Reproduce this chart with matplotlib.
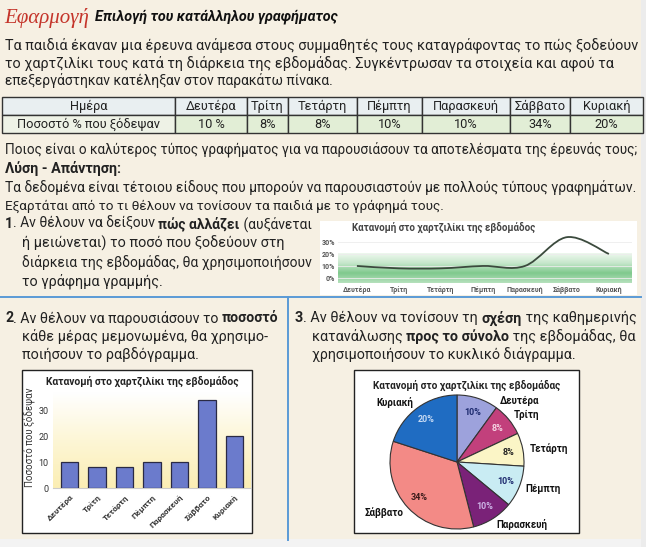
import matplotlib.pyplot as plt
import numpy as np
from matplotlib.patches import Rectangle, PathPatch
from matplotlib.path import Path
from matplotlib.colors import LinearSegmentedColormap
from matplotlib.transforms import offset_copy

# data
days = ["Δευτέρα", "Τρίτη", "Τετάρτη", "Πέμπτη", "Παρασκευή", "Σάββατο", "Κυριακή"]
percent = [10, 8, 8, 10, 10, 34, 20]
percent_labels = ["10 %", "8%", "8%", "10%", "10%", "34%", "20%"]
line_ticks = [0, 10, 20, 30]
bar_ticks = [0, 10, 20, 30]

pie_colors = ["#9da2dc", "#c2407c", "#fbf5c6", "#c9ecf3", "#7a2278", "#f38a86", "#1f6cc2"]
pct_colors = ["#1d2a6e", "#f6d4e4", "#222222", "#1d2a6e", "#cdb4e6", "#3a1a1a", "#c6daf4"]

W, H = 646, 547
FONT = "Roboto"
TXT = "#222222"

fig = plt.figure(figsize=(W / 100, H / 100), dpi=100)
fig.patch.set_facecolor("#f6f0e3")
renderer = fig.canvas.get_renderer()


def fx(x):
    return x / W


def fy(y):
    return 1 - y / H


def px_axes(x0, y0, x1, y1, **kw):
    return fig.add_axes([x0 / W, 1 - y1 / H, (x1 - x0) / W, (y1 - y0) / H], **kw)


def box(x0, y0, x1, y1, face, edge="none", lw=0, z=0):
    fig.add_artist(Rectangle((fx(x0), fy(y1)), (x1 - x0) / W, (y1 - y0) / H,
                             transform=fig.transFigure, facecolor=face,
                             edgecolor=edge, linewidth=lw, zorder=z))


def write(x, y, parts, end=None, size=10.3, cap=10.4, color=TXT, family=FONT, style="normal"):
    # parts: list of (text, bold); if end is given the size is fitted to the width
    def draw(sz):
        arts, xx = [], x
        for s, bold in parts:
            t = fig.text(fx(xx), fy(y), s, fontsize=sz, family=family, style=style,
                         fontweight="bold" if bold else "normal",
                         va="center", ha="left", color=color)
            xx += t.get_window_extent(renderer).width
            arts.append(t)
        return arts, xx

    arts, xx = draw(size)
    if end is not None:
        for a in arts:
            a.remove()
        draw(min(cap, size * (end - x) / (xx - x)))


# page edges
box(641, 0, 646, 547, "#ececec")
box(0, 539, 641, 547, "#f3f3f3")

# heading
fig.text(fx(4), fy(18), "Εφαρμογή", fontsize=15, family="Liberation Serif",
         style="italic", color="#c4342a", va="center", ha="left")
write(95, 17, [("Επιλογή του κατάλληλου γραφήματος", True)], end=338, size=9.3,
      color="#111111", style="italic")

write(5, 45, [("Τα παιδιά έκαναν μια έρευνα ανάμεσα στους συμμαθητές τους καταγράφοντας το πώς ξοδεύουν", False)], end=638)
write(5, 63, [("το χαρτζιλίκι τους κατά τη διάρκεια της εβδομάδας. Συγκέντρωσαν τα στοιχεία και αφού τα", False)], end=638)
write(5, 81, [("επεξεργάστηκαν κατέληξαν στον παρακάτω πίνακα.", False)], end=335)

# table
ax_t = px_axes(2, 97, 643, 133)
ax_t.axis("off")
bounds = [2, 175, 247, 288, 357, 422, 510, 570, 643]
widths = [(b - a) / (643 - 2) for a, b in zip(bounds[:-1], bounds[1:])]
cells = [["Ημέρα"] + days, ["Ποσοστό % που ξόδεψαν"] + percent_labels]
colours = [["#e9eff1"] * 8, ["#eef2e6"] + ["#e2eed6"] * 7]
tbl = ax_t.table(cellText=cells, colWidths=widths, cellColours=colours,
                 cellLoc="center", bbox=[0, 0, 1, 1])
tbl.auto_set_font_size(False)
tbl.set_fontsize(9.2)
for cell in tbl.get_celld().values():
    cell.set_edgecolor("#333333")
    cell.set_linewidth(1)
    cell.get_text().set_fontfamily(FONT)
    cell.get_text().set_color(TXT)

write(5, 149, [("Ποιος είναι ο καλύτερος τύπος γραφήματος για να παρουσιάσουν τα αποτελέσματα της έρευνάς τους;", False)], end=641)
write(5, 168, [("Λύση - Απάντηση:", True)], end=132)
write(5, 187, [("Τα δεδομένα είναι τέτοιου είδους που μπορούν να παρουσιαστούν με πολλούς τύπους γραφημάτων.", False)], end=637)
write(5, 206, [("Εξαρτάται από το τι θέλουν να τονίσουν τα παιδιά με το γράφημά τους.", False)], end=440)

write(5, 224, [("1", True), (". Αν θέλουν να δείξουν ", False), ("πώς αλλάζει", True), (" (αυξάνεται", False)], end=312)
write(22, 243, [("ή μειώνεται) το ποσό που ξοδεύουν στη", False)], end=310)
write(22, 262, [("διάρκεια της εβδομάδας, θα χρησιμοποιήσουν", False)], end=312)
write(22, 281, [("το γράφημα γραμμής.", False)], end=190)

# line chart
box(320, 221, 637, 295, "#ffffff")
ax_l = px_axes(338, 223, 632, 283)
ax_l.set_xlim(-0.45, 6.55)
ax_l.set_ylim(-4.2, 45.8)
greens = LinearSegmentedColormap.from_list("g", ["#eef8ee", "#c6e7cb", "#7fc98d", "#b5e0bc"])
ax_l.imshow(np.linspace(0, 1, 100).reshape(-1, 1), cmap=greens, aspect="auto",
            extent=(-0.45, 6.55, -4.2, 20), origin="upper", zorder=0)
ax_l.set_facecolor("#ffffff")
ax_l.yaxis.grid(True, color="#ececec", lw=0.6)
ax_l.set_axisbelow(True)
xs = np.arange(len(percent), dtype=float)
ys = np.array(percent, dtype=float)
pts = np.column_stack([xs, ys])
ext = np.vstack([pts[0], pts, pts[-1]])
verts = [tuple(pts[0])]
codes = [Path.MOVETO]
for i in range(len(pts) - 1):
    p0, p1, p2, p3 = ext[i], ext[i + 1], ext[i + 2], ext[i + 3]
    verts += [tuple(p1 + (p2 - p0) / 6), tuple(p2 - (p3 - p1) / 6), tuple(p2)]
    codes += [Path.CURVE4] * 3
ax_l.add_patch(PathPatch(Path(verts, codes), fill=False, edgecolor="#3b4a3d", lw=1.3, zorder=3))
ax_l.set_xticks(xs)
ax_l.set_xticklabels(days, fontsize=5, color="#555555", family=FONT, fontweight="bold")
ax_l.set_yticks(line_ticks)
ax_l.set_yticklabels([f"{v}%" for v in line_ticks], fontsize=5, color="#555555",
                     family=FONT, fontweight="bold")
ax_l.tick_params(length=0, pad=2)
for s in ax_l.spines.values():
    s.set_visible(False)
fig.text(fx(352), fy(227), "Κατανομή στο χαρτζιλίκι της εβδομάδος", fontsize=7,
         family=FONT, fontweight="bold", color="#444444", va="center", ha="left")

# dividers
fig.add_artist(plt.Line2D([0, fx(641)], [fy(297), fy(297)], color="#5a9ad6", lw=1.4,
                          transform=fig.transFigure))
fig.add_artist(plt.Line2D([fx(288), fx(288)], [fy(297), fy(540)], color="#5a9ad6", lw=1.4,
                          transform=fig.transFigure))

write(5, 318, [("2", True), (". Αν θέλουν να παρουσιάσουν το ", False), ("ποσοστό", True)], end=278)
write(22, 337, [("κάθε μέρας μεμονωμένα, θα χρησιμο-", False)], end=278)
write(22, 355, [("ποιήσουν το ραβδόγραμμα.", False)], end=200)

write(295, 318, [("3", True), (". Αν θέλουν να τονίσουν τη ", False), ("σχέση", True), (" της καθημερινής", False)], end=640)
write(312, 337, [("κατανάλωσης ", False), ("προς το σύνολο", True), (" της εβδομάδας, θα", False)], end=638)
write(312, 355, [("χρησιμοποιήσουν το κυκλικό διάγραμμα.", False)], end=575)

# bar chart
box(22, 370, 252, 533, "#ffffff", "#222222", 1.0, z=1)
ax_b = px_axes(53, 392, 251, 488)
ax_b.set_zorder(2)
ax_b.set_xlim(-0.6, 6.6)
ax_b.set_ylim(0, 37)
yell = LinearSegmentedColormap.from_list("y", ["#ffffff", "#fdf6d6", "#fbeeb4"])
ax_b.imshow(np.linspace(0, 1, 100).reshape(-1, 1), cmap=yell, aspect="auto",
            extent=(-0.6, 6.6, 0, 37), origin="upper", zorder=0)
ax_b.bar(xs, percent, width=0.65, color="#6b7bcc", edgecolor="#2a2a44", lw=0.9, zorder=3)
ax_b.set_xticks(xs)
ax_b.set_xticklabels(days, rotation=45, ha="right", rotation_mode="anchor",
                     fontsize=6, fontweight="bold", color="#333333", family=FONT)
ax_b.set_yticks(bar_ticks)
ax_b.set_yticklabels([str(v) for v in bar_ticks], fontsize=6.5, color="#333333", family=FONT)
ax_b.tick_params(axis="y", length=0, pad=3)
ax_b.tick_params(axis="x", length=0, pad=4)
for k, s in ax_b.spines.items():
    s.set_visible(k == "bottom")
ax_b.spines["bottom"].set_color("#cccccc")
fig.text(fx(30), fy(437), "Ποσοστό που ξόδεψαν", rotation=90, fontsize=7,
         family=FONT, color="#333333", va="center", ha="center")
fig.text(fx(142), fy(381), "Κατανομή στο χαρτζιλίκι της εβδομάδος", fontsize=7.4,
         family=FONT, fontweight="bold", color="#222222", va="center", ha="center", zorder=3)

# pie chart
box(354, 370, 579, 533, "#ffffff", "#222222", 1.0, z=1)
ax_p = px_axes(390, 395, 524, 529)
ax_p.set_zorder(2)
wedges, labels, pcts = ax_p.pie(percent, labels=days, colors=pie_colors, startangle=90,
                                counterclock=False, labeldistance=1.1, pctdistance=0.78,
                                autopct=lambda p: f"{p:.0f}%",
                                wedgeprops=dict(edgecolor="#333333", linewidth=0.8))
for t in labels:
    t.set_fontsize(7)
    t.set_fontweight("bold")
    t.set_family(FONT)
    t.set_color("#111111")
# the top label sits beside the slice, below the title
labels[0].set_transform(offset_copy(labels[0].get_transform(), fig=fig, x=20, y=-9, units="dots"))
for t, c in zip(pcts, pct_colors):
    t.set_fontsize(6.5)
    t.set_fontweight("bold")
    t.set_family(FONT)
    t.set_color(c)
ax_p.set_xlim(-1, 1)
ax_p.set_ylim(-1, 1)
fig.text(fx(467), fy(385), "Κατανομή στο χαρτζιλίκι της εβδομάδας", fontsize=7.2,
         family=FONT, fontweight="bold", color="#222222", va="center", ha="center", zorder=3)

fig.savefig("out.png", dpi=100, facecolor=fig.get_facecolor())
